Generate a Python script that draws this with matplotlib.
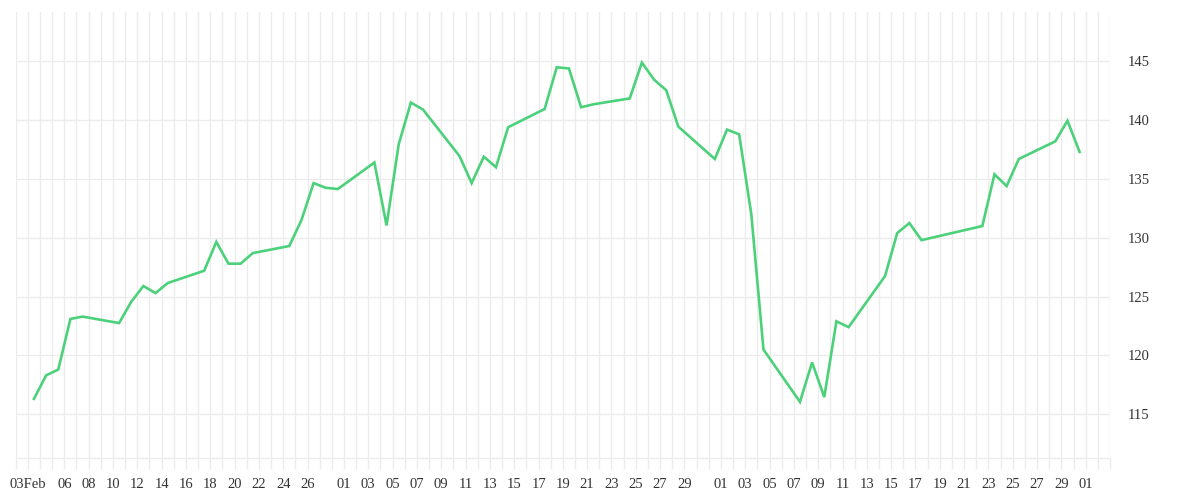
import matplotlib
matplotlib.use("Agg")
import matplotlib.pyplot as plt
import matplotlib.dates as mdates
import numpy as np
import pandas as pd

# ---- data ----
dates = [
    "2025-02-03", "2025-02-04", "2025-02-05", "2025-02-06", "2025-02-07",
    "2025-02-10", "2025-02-11", "2025-02-12", "2025-02-13", "2025-02-14",
    "2025-02-17", "2025-02-18", "2025-02-19", "2025-02-20", "2025-02-21",
    "2025-02-24", "2025-02-25", "2025-02-26", "2025-02-27", "2025-02-28",
    "2025-03-03", "2025-03-04", "2025-03-05", "2025-03-06", "2025-03-07",
    "2025-03-10", "2025-03-11", "2025-03-12", "2025-03-13", "2025-03-14",
    "2025-03-17", "2025-03-18", "2025-03-19", "2025-03-20", "2025-03-21",
    "2025-03-24", "2025-03-25", "2025-03-26", "2025-03-27", "2025-03-28",
    "2025-03-31", "2025-04-01", "2025-04-02", "2025-04-03", "2025-04-04",
    "2025-04-07", "2025-04-08", "2025-04-09", "2025-04-10", "2025-04-11",
    "2025-04-14", "2025-04-15", "2025-04-16", "2025-04-17",
    "2025-04-22", "2025-04-23", "2025-04-24", "2025-04-25",
    "2025-04-28", "2025-04-29", "2025-04-30",
]
values = [
    116.3, 118.3, 118.8, 123.1, 123.3,
    122.75, 124.55, 125.9, 125.3, 126.15,
    127.2, 129.65, 127.8, 127.8, 128.7,
    129.3, 131.5, 134.65, 134.25, 134.15,
    136.4, 131.05, 137.95, 141.5, 140.9,
    136.95, 134.65, 136.9, 136.0, 139.4,
    140.95, 144.5, 144.4, 141.1, 141.35,
    141.85, 144.9, 143.45, 142.55, 139.45,
    136.7, 139.2, 138.8, 132.0, 120.5,
    116.05, 119.4, 116.45, 122.9, 122.4,
    126.75, 130.4, 131.25, 129.8,
    131.0, 135.4, 134.4, 136.7,
    138.2, 139.95, 137.3,
]
tick_dates = (["2025-02-03"] +
              [f"2025-02-{d:02d}" for d in range(6, 27, 2)] +
              [f"2025-03-{d:02d}" for d in range(1, 30, 2)] +
              [f"2025-04-{d:02d}" for d in range(1, 30, 2)] +
              ["2025-05-01"])
tick_labels = (["03Feb"] +
               [f"{d:02d}" for d in range(6, 27, 2)] +
               [f"{d:02d}" for d in range(1, 30, 2)] +
               [f"{d:02d}" for d in range(1, 30, 2)] +
               ["01"])
y_ticks = [115, 120, 125, 130, 135, 140, 145]

# ---- style ----
grid_c = "#ececec"
text_c = "#333333"
line_c = "#4cd17b"
font = ["Liberation Serif", "DejaVu Serif"]

fig = plt.figure(figsize=(12, 5), dpi=100)
ax = fig.add_axes([15.7 / 1200, 1 - 458.3 / 500, (1110 - 15.7) / 1200, (458.3 - 12) / 500])

x = pd.to_datetime(dates) + pd.Timedelta(hours=12)
ax.plot(x, values, color=line_c, lw=1.9, solid_joinstyle="miter", zorder=3)

ax.set_xlim(pd.Timestamp("2025-02-02"), pd.Timestamp("2025-05-03"))
ax.set_ylim(111.25, 149.2)

# vertical daily grid
ax.xaxis.set_minor_locator(mdates.DayLocator())
ax.set_xticks(pd.to_datetime(tick_dates))
ax.set_xticklabels(tick_labels, family=font, fontsize=10.5, color=text_c)
ax.tick_params(axis="x", which="both", length=8, width=1, color=grid_c, pad=6)
ax.grid(True, axis="x", which="both", color=grid_c, lw=1)

ax.yaxis.tick_right()
ax.set_yticks(y_ticks)
ax.set_yticklabels([str(v) for v in y_ticks], family=font, fontsize=10.5, color=text_c)
ax.tick_params(axis="y", length=0, pad=13)
ax.grid(True, axis="y", color=grid_c, lw=1)

for s in ["top", "left", "right"]:
    ax.spines[s].set_visible(False)
ax.spines["bottom"].set_color(grid_c)
ax.spines["bottom"].set_linewidth(1)
ax.set_axisbelow(True)

fig.savefig("out.png", dpi=100)
